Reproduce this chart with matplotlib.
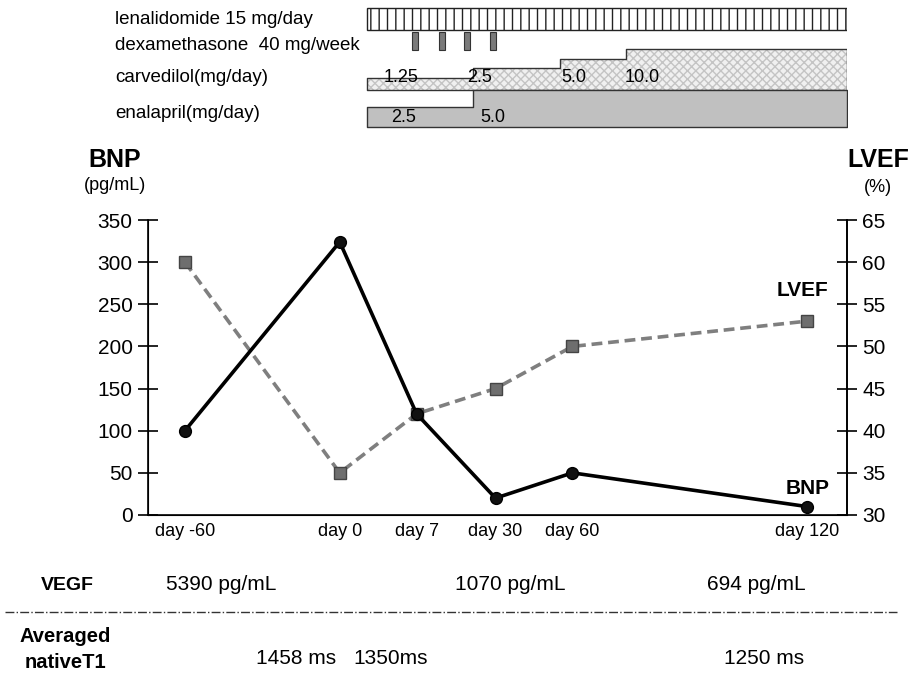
import numpy as np
import matplotlib
matplotlib.use("Agg")
import matplotlib.pyplot as plt

plt.rcParams["font.family"] = ["Liberation Sans Narrow", "Liberation Sans", "DejaVu Sans"]

W, H = 913, 677

# --- data ---
days = ["day -60", "day 0", "day 7", "day 30", "day 60", "day 120"]
day_pos = [3.7, 19.2, 26.9, 34.8, 42.5, 66.0]   # horizontal placement of the visits
bnp = [100, 324, 120, 20, 50, 10]               # pg/mL
lvef = [60, 35, 42, 45, 50, 53]                 # %

# drug schedule (same x units as the main chart)
drug_start, drug_end = 21.9, 70.0
dexa_pos = [26.7, 29.4, 31.9, 34.5]
carv_edges = [21.9, 32.5, 41.3, 47.9, 70.0]
carv_doses = ["1.25", "2.5", "5.0", "10.0"]
carv_level = [1, 2, 3, 4]
enal_edges = [21.9, 32.5, 70.0]
enal_doses = ["2.5", "5.0"]
enal_level = [1, 2]

vegf_labels = ["5390 pg/mL", "1070 pg/mL", "694 pg/mL"]
t1_labels = ["1458 ms", "1350ms", "1250 ms"]


def fx(px):
    return px / W


def fy(py):
    return 1 - py / H


fig = plt.figure(figsize=(W / 100, H / 100), dpi=100)

# --- main chart ---
ax = fig.add_axes([fx(148), fy(515), fx(847) - fx(148), fy(220) - fy(515)])
ax.plot(day_pos, bnp, color="black", lw=2.6, marker="o", ms=8.5,
        mfc="#111111", mec="black", zorder=4)
ax.set_xlim(0, 70)
ax.set_ylim(0, 350)
ax.set_yticks(range(0, 351, 50))
ax.tick_params(axis="y", direction="inout", length=14, width=1.2, labelsize=15, pad=4)
ax.set_xticks(day_pos)
ax.set_xticklabels(days, fontsize=13)
ax.tick_params(axis="x", length=0, pad=6)
ax.spines["top"].set_visible(False)
for s in ["left", "bottom", "right"]:
    ax.spines[s].set_linewidth(1.2)

ax2 = ax.twinx()
ax2.plot(day_pos, lvef, color="#7f7f7f", lw=2.6, ls=(0, (3, 1.6)), marker="s", ms=8,
         mfc="#6e6e6e", mec="#444444", zorder=3)
ax2.set_ylim(30, 65)
ax2.set_yticks(range(30, 66, 5))
ax2.tick_params(axis="y", direction="inout", length=14, width=1.2, labelsize=15, pad=4)
ax2.spines["top"].set_visible(False)
ax2.spines["right"].set_linewidth(1.2)
ax.set_zorder(ax2.get_zorder() + 1)
ax.patch.set_visible(False)

ax2.text(day_pos[-1] - 0.5, lvef[-1] + 2.5, "LVEF", fontsize=15, fontweight="bold",
         ha="center", va="bottom")
ax.text(day_pos[-1] + 0.1, bnp[-1] + 10, "BNP", fontsize=15, fontweight="bold",
        ha="center", va="bottom")

fig.text(fx(115), fy(160), "BNP", fontsize=18, fontweight="bold", ha="center", va="center")
fig.text(fx(115), fy(186), "(pg/mL)", fontsize=13, ha="center", va="center")
fig.text(fx(878), fy(160), "LVEF", fontsize=18, fontweight="bold", ha="center", va="center")
fig.text(fx(878), fy(187), "(%)", fontsize=13, ha="center", va="center")

# --- drug panel ---
top = fig.add_axes([fx(148), fy(135), fx(847) - fx(148), fy(0) - fy(135)])
top.set_xlim(0, 70)
top.set_ylim(135, 0)
top.axis("off")

top.bar(drug_start, 22, bottom=8, width=drug_end - drug_start, align="edge",
        facecolor="white", edgecolor="#222222", hatch="||", lw=1)
for p in dexa_pos:
    top.bar(p, 18, bottom=32, width=0.6, align="center",
            facecolor="#7a7a7a", edgecolor="#333333", lw=0.8)

carv_top = [90 - (12 + 9.7 * (lv - 1)) for lv in carv_level]
top.fill_between(carv_edges, carv_top + [carv_top[-1]], 90, step="post",
                 facecolor="#f0f0f0", edgecolor="#c4c4c4", hatch="xxxx", lw=0)
top.fill_between(carv_edges, carv_top + [carv_top[-1]], 90, step="post",
                 facecolor="none", edgecolor="#333333", lw=1)
for x, t in zip([25.3, 33.2, 42.6, 49.5], carv_doses):
    top.text(x, 78, t, fontsize=13, ha="center", va="center")

enal_top = [127 - (20 + 17 * (lv - 1)) for lv in enal_level]
top.fill_between(enal_edges, enal_top + [enal_top[-1]], 127, step="post",
                 facecolor="#c0c0c0", edgecolor="#333333", lw=1)
for x, t in zip([25.6, 34.5], enal_doses):
    top.text(x, 117, t, fontsize=13, ha="center", va="center")

fig.text(fx(115), fy(19), "lenalidomide 15 mg/day", fontsize=13.5, va="center")
fig.text(fx(115), fy(45), "dexamethasone  40 mg/week", fontsize=13.5, va="center")
fig.text(fx(115), fy(78), "carvedilol(mg/day)", fontsize=13.5, va="center")
fig.text(fx(115), fy(113), "enalapril(mg/day)", fontsize=13.5, va="center")

# --- bottom table ---
fig.text(fx(67), fy(585), "VEGF", fontsize=14, fontweight="bold", ha="center", va="center")
for x, t in zip([221, 510, 756], vegf_labels):
    fig.text(fx(x), fy(585), t, fontsize=15, ha="center", va="center")

fig.add_artist(plt.Line2D([fx(5), fx(897)], [fy(612), fy(612)], color="#333333",
                          lw=1, ls="-."))

fig.text(fx(65), fy(637), "Averaged", fontsize=14.5, fontweight="bold", ha="center", va="center")
fig.text(fx(65), fy(662), "nativeT1", fontsize=14.5, fontweight="bold", ha="center", va="center")
for x, t in zip([296, 391, 764], t1_labels):
    fig.text(fx(x), fy(658), t, fontsize=15, ha="center", va="center")

fig.savefig("out.png", dpi=100, facecolor="white")
